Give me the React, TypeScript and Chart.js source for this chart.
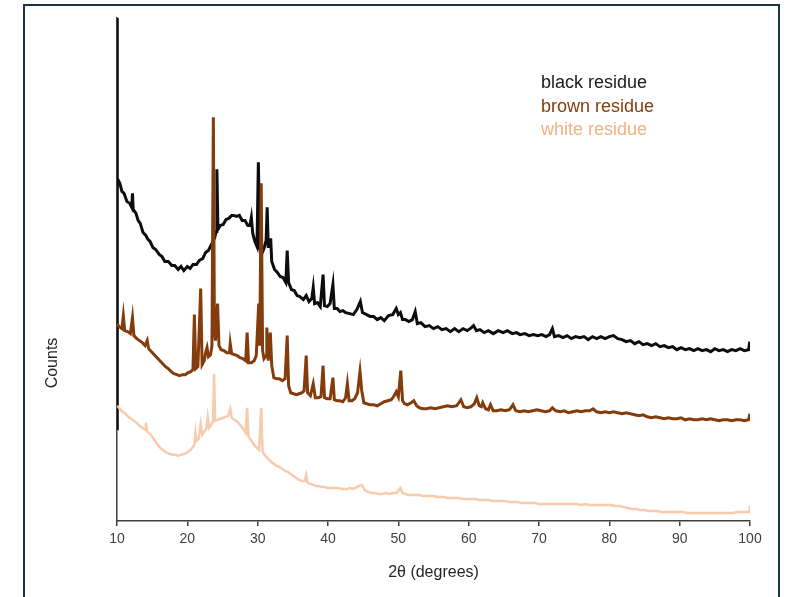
import React, { useEffect, useRef } from "react";
import { Chart, registerables } from "chart.js";

Chart.register(...registerables);

const FONT = "'Liberation Sans', Arial, sans-serif";

const xTicks = [10, 20, 30, 40, 50, 60, 70, 80, 90, 100];
const seriesNames = ["black residue", "brown residue", "white residue"];
const lineColors = ["#0d0d0d", "#843C0C", "#F8CBAD"];
const legendColors = ["#1a1a1a", "#843C0C", "#F4B183"];
const xTitle = "2θ (degrees)";
const yTitle = "Counts";

// [2θ, counts]
const blackResidue: [number, number][] = [
  [10.0, 920], [10.02, 5020], [10.06, 3420], [10.4, 3370], [10.7, 3290], [11.0, 3270], [11.4, 3190], [11.8, 3170],
  [12.1, 3130], [12.2, 3270], [12.3, 3110], [12.7, 3070], [13.0, 3000], [13.3, 2970], [13.7, 2880], [14.1, 2850],
  [14.4, 2810], [14.7, 2790], [15.1, 2730], [15.5, 2710], [16.0, 2660], [16.4, 2640], [16.8, 2590], [17.3, 2590],
  [17.8, 2550], [18.2, 2550], [18.7, 2510], [19.1, 2540], [19.5, 2500], [20.0, 2540], [20.4, 2520], [20.8, 2560],
  [21.3, 2560], [21.7, 2600], [22.2, 2620], [22.6, 2680], [23.0, 2700], [23.5, 2770], [23.9, 2830], [24.1, 2890],
  [24.2, 3510], [24.35, 2910], [24.7, 2950], [25.1, 2960], [25.5, 3010], [25.9, 3020], [26.3, 3050], [26.6, 3050],
  [27.0, 3040], [27.4, 3050], [27.8, 3000], [28.2, 3000], [28.6, 2950], [28.9, 2950], [29.1, 3030], [29.3, 2870],
  [29.6, 2790], [29.9, 2740], [30.1, 3580], [30.3, 2720], [30.6, 2670], [30.9, 2720], [31.2, 2800], [31.35, 3130],
  [31.5, 2740], [31.7, 2740], [31.85, 2820], [32.0, 2590], [32.4, 2510], [32.8, 2480], [33.2, 2440], [33.6, 2430],
  [34.0, 2380], [34.2, 2700], [34.4, 2380], [34.8, 2310], [35.2, 2300], [35.6, 2250], [36.0, 2240], [36.5, 2210],
  [36.9, 2250], [37.3, 2190], [37.7, 2220], [37.9, 2330], [38.1, 2170], [38.5, 2180], [38.9, 2140], [39.3, 2460],
  [39.5, 2150], [39.9, 2140], [40.3, 2170], [40.7, 2360], [40.9, 2120], [41.3, 2120], [41.7, 2090], [42.1, 2100],
  [42.5, 2080], [43.1, 2070], [43.6, 2060], [44.1, 2110], [44.6, 2190], [44.9, 2080], [45.5, 2060], [46.0, 2040],
  [46.5, 2040], [47.0, 2010], [47.5, 2030], [48.0, 2000], [48.6, 2050], [49.2, 2060], [49.7, 2120], [50.0, 2060],
  [50.3, 2080], [50.6, 2010], [51.0, 2010], [51.5, 1990], [52.0, 2010], [52.4, 2090], [52.7, 1970], [53.2, 1980],
  [53.8, 1940], [54.4, 1950], [55.0, 1920], [55.6, 1940], [56.2, 1910], [56.8, 1920], [57.4, 1890], [58.0, 1920],
  [58.6, 1890], [59.2, 1920], [59.8, 1900], [60.4, 1930], [60.7, 1950], [61.1, 1900], [61.6, 1910], [62.2, 1880],
  [62.8, 1900], [63.5, 1870], [64.2, 1900], [64.9, 1880], [65.5, 1900], [66.2, 1870], [66.8, 1880], [67.3, 1860],
  [68.0, 1870], [68.6, 1850], [69.2, 1860], [69.8, 1850], [70.4, 1860], [71.0, 1840], [71.5, 1860], [71.9, 1920],
  [72.2, 1840], [72.8, 1850], [73.4, 1830], [74.0, 1850], [74.6, 1820], [75.2, 1840], [75.8, 1830], [76.4, 1840],
  [77.0, 1810], [77.6, 1840], [78.2, 1820], [78.8, 1840], [79.4, 1820], [80.0, 1840], [80.6, 1850], [81.2, 1820],
  [81.8, 1810], [82.4, 1790], [83.0, 1800], [83.6, 1770], [84.2, 1790], [84.8, 1760], [85.4, 1770], [86.0, 1750],
  [86.6, 1770], [87.2, 1740], [87.8, 1750], [88.4, 1730], [89.0, 1740], [89.6, 1710], [90.2, 1730], [90.8, 1710],
  [91.4, 1720], [92.0, 1700], [92.6, 1720], [93.2, 1700], [93.8, 1710], [94.4, 1690], [95.0, 1720], [95.6, 1700],
  [96.2, 1710], [96.8, 1690], [97.4, 1710], [98.0, 1700], [98.6, 1720], [99.2, 1700], [99.8, 1710], [99.95, 1780],
  [100.0, 1790],
];

const brownResidue: [number, number][] = [
  [10.0, 1970], [10.3, 1940], [10.7, 1920], [10.9, 2050], [11.1, 1900], [11.5, 1890], [11.9, 1870], [12.2, 2030],
  [12.4, 1850], [12.8, 1820], [13.2, 1800], [13.6, 1780], [14.0, 1750], [14.3, 1800], [14.5, 1720], [14.9, 1690],
  [15.3, 1660], [15.7, 1630], [16.1, 1600], [16.5, 1570], [16.9, 1540], [17.3, 1520], [17.7, 1490], [18.1, 1470],
  [18.5, 1460], [18.9, 1450], [19.3, 1460], [19.7, 1460], [20.1, 1480], [20.5, 1490], [20.8, 1510], [21.0, 2060],
  [21.2, 1520], [21.5, 1540], [21.9, 2320], [22.1, 1560], [22.4, 1600], [22.6, 1680], [22.8, 1730], [23.0, 1640],
  [23.3, 1660], [23.5, 1750], [23.7, 4030], [23.85, 1900], [24.0, 1800], [24.3, 2170], [24.5, 1750], [24.8, 1710],
  [25.2, 1700], [25.6, 1680], [26.0, 1680], [26.1, 1770], [26.3, 1670], [26.7, 1660], [27.1, 1650], [27.5, 1630],
  [27.9, 1620], [28.3, 1600], [28.5, 1880], [28.7, 1580], [29.1, 1580], [29.5, 1600], [29.8, 1650], [30.15, 2170],
  [30.3, 1750], [30.5, 3370], [30.7, 1700], [30.9, 1620], [31.2, 1650], [31.3, 1930], [31.5, 1600], [31.8, 1880],
  [32.0, 1550], [32.3, 1430], [32.7, 1420], [33.1, 1420], [33.5, 1400], [33.9, 1420], [34.2, 1850], [34.4, 1350],
  [34.7, 1280], [35.1, 1270], [35.5, 1260], [35.9, 1270], [36.3, 1280], [36.6, 1300], [36.9, 1650], [37.1, 1280],
  [37.5, 1250], [37.9, 1370], [38.2, 1230], [38.6, 1230], [39.0, 1240], [39.3, 1550], [39.5, 1230], [39.9, 1220],
  [40.3, 1220], [40.7, 1430], [40.9, 1210], [41.3, 1200], [41.7, 1200], [42.1, 1190], [42.5, 1230], [42.75, 1370],
  [43.0, 1200], [43.4, 1200], [43.8, 1220], [44.2, 1280], [44.55, 1490], [44.8, 1300], [45.1, 1180], [45.5, 1170],
  [46.0, 1160], [46.5, 1160], [47.0, 1150], [47.5, 1170], [48.0, 1190], [48.5, 1200], [49.0, 1210], [49.4, 1250],
  [49.7, 1290], [50.0, 1240], [50.35, 1500], [50.6, 1200], [50.9, 1170], [51.3, 1160], [51.8, 1180], [52.2, 1200],
  [52.6, 1150], [53.0, 1130], [53.5, 1120], [54.0, 1120], [54.6, 1130], [55.2, 1120], [55.8, 1130], [56.4, 1140],
  [57.0, 1150], [57.6, 1140], [58.3, 1150], [58.9, 1210], [59.3, 1140], [59.8, 1130], [60.3, 1140], [60.8, 1170],
  [61.15, 1230], [61.5, 1150], [61.8, 1140], [62.0, 1180], [62.4, 1120], [62.8, 1110], [63.1, 1160], [63.5, 1100],
  [64.0, 1100], [64.6, 1110], [65.2, 1100], [65.8, 1110], [66.3, 1160], [66.7, 1100], [67.3, 1090], [67.9, 1100],
  [68.5, 1090], [69.1, 1100], [69.7, 1110], [70.3, 1100], [70.9, 1090], [71.5, 1100], [71.9, 1130], [72.4, 1100],
  [73.0, 1090], [73.6, 1100], [74.2, 1080], [74.8, 1090], [75.4, 1100], [76.0, 1090], [76.6, 1100], [77.2, 1100],
  [77.7, 1120], [78.2, 1090], [78.8, 1080], [79.4, 1090], [80.0, 1080], [80.6, 1090], [81.2, 1080], [81.8, 1070],
  [82.4, 1080], [83.0, 1070], [83.6, 1060], [84.2, 1050], [84.8, 1060], [85.4, 1040], [86.0, 1030], [86.6, 1040],
  [87.2, 1030], [87.8, 1020], [88.4, 1030], [89.0, 1020], [89.6, 1020], [90.2, 1030], [90.8, 1010], [91.4, 1020],
  [92.0, 1010], [92.6, 1010], [93.2, 1020], [93.8, 1010], [94.4, 1020], [95.0, 1010], [95.6, 1000], [96.2, 1010],
  [96.8, 1010], [97.4, 1000], [98.0, 1010], [98.6, 1010], [99.2, 1000], [99.8, 1010], [99.95, 1060], [100.0, 1070],
];

const whiteResidue: [number, number][] = [
  [10.0, 1150], [10.4, 1120], [10.8, 1090], [11.2, 1070], [11.6, 1040], [12.0, 1020], [12.4, 1000], [12.8, 980],
  [13.2, 950], [13.6, 930], [14.0, 910], [14.1, 980], [14.3, 890], [14.7, 870], [15.1, 830], [15.5, 790],
  [15.9, 750], [16.3, 720], [16.7, 700], [17.1, 680], [17.5, 670], [17.9, 660], [18.3, 660], [18.7, 650],
  [19.1, 660], [19.5, 670], [19.9, 680], [20.3, 700], [20.7, 730], [21.0, 760], [21.15, 880], [21.3, 800],
  [21.6, 820], [21.9, 970], [22.1, 860], [22.4, 890], [22.7, 920], [22.9, 1040], [23.1, 930], [23.4, 960],
  [23.65, 1000], [23.8, 1470], [23.95, 1000], [24.3, 1010], [24.7, 1020], [25.1, 1030], [25.5, 1040], [25.8, 1050],
  [26.1, 1120], [26.3, 1030], [26.7, 1010], [27.1, 990], [27.5, 960], [27.9, 920], [28.3, 880], [28.5, 1130],
  [28.7, 840], [29.1, 800], [29.5, 760], [29.9, 730], [30.2, 710], [30.5, 1130], [30.7, 690], [31.1, 650],
  [31.5, 620], [31.9, 590], [32.3, 570], [32.7, 550], [33.1, 540], [33.5, 520], [33.9, 500], [34.3, 490],
  [34.7, 470], [35.1, 450], [35.5, 430], [35.9, 410], [36.3, 400], [36.7, 400], [36.9, 460], [37.1, 380],
  [37.5, 370], [37.9, 360], [38.3, 350], [38.7, 350], [39.1, 340], [39.5, 340], [39.9, 330], [40.3, 330],
  [40.7, 330], [41.1, 330], [41.5, 330], [41.9, 320], [42.3, 320], [42.7, 320], [43.1, 330], [43.5, 320],
  [43.9, 330], [44.4, 350], [44.8, 360], [45.2, 310], [45.7, 290], [46.2, 280], [46.7, 280], [47.2, 270],
  [47.7, 270], [48.2, 280], [48.7, 270], [49.2, 280], [49.7, 280], [50.0, 300], [50.3, 330], [50.6, 280],
  [51.0, 270], [51.5, 260], [52.0, 260], [52.5, 260], [53.0, 260], [53.5, 250], [54.0, 250], [54.5, 250],
  [55.0, 250], [55.5, 240], [56.0, 240], [56.5, 240], [57.0, 230], [57.5, 230], [58.0, 230], [58.6, 230],
  [59.2, 220], [59.8, 220], [60.4, 220], [61.0, 220], [61.6, 210], [62.2, 210], [62.8, 210], [63.4, 200],
  [64.0, 200], [64.6, 200], [65.2, 200], [65.8, 190], [66.4, 190], [67.0, 190], [67.6, 180], [68.2, 180],
  [68.8, 180], [69.4, 180], [70.0, 170], [70.6, 170], [71.2, 170], [71.8, 170], [72.4, 170], [73.0, 170],
  [73.6, 170], [74.2, 170], [74.8, 170], [75.4, 170], [76.0, 160], [76.6, 170], [77.2, 160], [77.8, 160],
  [78.4, 160], [79.0, 160], [79.6, 160], [80.2, 160], [80.8, 150], [81.4, 150], [82.0, 140], [82.6, 130],
  [83.2, 120], [83.8, 120], [84.4, 110], [85.0, 110], [85.6, 100], [86.2, 100], [86.8, 100], [87.4, 90],
  [88.0, 90], [88.6, 90], [89.2, 90], [89.8, 90], [90.4, 90], [91.0, 80], [91.6, 80], [92.2, 80],
  [92.8, 80], [93.4, 80], [94.0, 80], [94.6, 80], [95.2, 80], [95.8, 80], [96.4, 80], [97.0, 80],
  [97.6, 80], [98.2, 90], [98.8, 90], [99.4, 90], [99.9, 90], [99.97, 140], [100.0, 150],
];

const seriesData = [blackResidue, brownResidue, whiteResidue];

const overlayPlugin = {
  id: "overlayText",
  afterDraw(chart: any) {
    const { ctx, chartArea } = chart;
    ctx.save();
    // y-axis title
    ctx.fillStyle = "#262626";
    ctx.font = `16px ${FONT}`;
    ctx.textAlign = "center";
    ctx.textBaseline = "middle";
    ctx.translate(chartArea.left - 64, chartArea.top + 345);
    ctx.rotate(-Math.PI / 2);
    ctx.fillText(yTitle, 0, 0);
    ctx.restore();

    // legend text
    ctx.save();
    ctx.font = `18px ${FONT}`;
    ctx.textAlign = "left";
    ctx.textBaseline = "alphabetic";
    const lx = chartArea.left + 424;
    const ly = chartArea.top + 70;
    seriesNames.forEach((name, i) => {
      ctx.fillStyle = legendColors[i];
      ctx.fillText(name, lx, ly + i * 23.5);
    });
    ctx.restore();
  },
};

export default function App() {
  const canvasRef = useRef<HTMLCanvasElement | null>(null);

  useEffect(() => {
    if (!canvasRef.current) return;
    const chart = new Chart(canvasRef.current, {
      type: "line",
      data: {
        datasets: seriesData.map((pts, i) => ({
          label: seriesNames[i],
          data: pts.map(([x, y]) => ({ x, y })),
          borderColor: lineColors[i],
          backgroundColor: lineColors[i],
          borderWidth: i === 2 ? 2.5 : 3,
          pointRadius: 0,
          tension: 0,
          order: 3 - i,
        })),
      },
      options: {
        animation: false,
        responsive: false,
        devicePixelRatio: 1,
        layout: { padding: { left: 117, right: 37, top: 18, bottom: 0 } },
        plugins: {
          legend: { display: false },
          tooltip: { enabled: false },
        },
        scales: {
          x: {
            type: "linear",
            min: 10,
            max: 100,
            afterBuildTicks: (s: any) => {
              s.ticks = xTicks.map((v) => ({ value: v }));
            },
            afterFit: (s: any) => {
              s.height = 76;
            },
            ticks: {
              font: { family: FONT, size: 14 },
              color: "#404040",
              padding: 5,
              maxRotation: 0,
              autoSkip: false,
            },
            grid: {
              drawOnChartArea: false,
              drawTicks: true,
              tickLength: 5,
              color: "#404040",
              lineWidth: 1.5,
            },
            border: { display: true, color: "#404040", width: 1.5 },
            title: {
              display: true,
              text: xTitle,
              font: { family: FONT, size: 16 },
              color: "#262626",
              padding: { top: 0, bottom: 15 },
            },
          },
          y: {
            type: "linear",
            min: 0,
            max: 5020,
            afterFit: (s: any) => {
              s.width = 0;
            },
            ticks: { display: false },
            grid: { drawOnChartArea: false, drawTicks: false },
            border: { display: true, color: "#404040", width: 1.5 },
          },
        },
      },
      plugins: [overlayPlugin],
    });
    return () => chart.destroy();
  }, []);

  return (
    <div
      style={{
        position: "fixed",
        left: 0,
        top: 0,
        width: 787,
        height: 597,
        overflow: "hidden",
        background: "#ffffff",
      }}
    >
      <canvas ref={canvasRef} width={787} height={597} style={{ width: 787, height: 597, display: "block" }} />
      <div
        style={{
          position: "absolute",
          left: 23,
          top: 4,
          width: 757,
          height: 700,
          border: "2.5px solid #1c3547",
          boxSizing: "border-box",
          pointerEvents: "none",
        }}
      />
    </div>
  );
}
